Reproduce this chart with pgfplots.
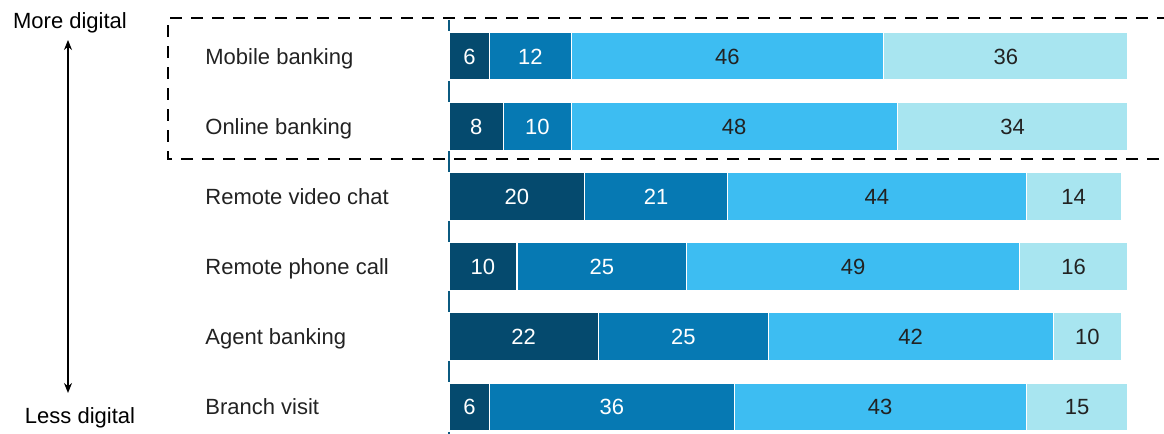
\documentclass[border=0pt]{standalone}
\usepackage{fontspec}
\setmainfont{Liberation Sans}
\usepackage{pgfplots}
\pgfplotsset{compat=1.18}
\usetikzlibrary{arrows.meta}
\definecolor{c1}{HTML}{054A6E}
\definecolor{c2}{HTML}{0679B3}
\definecolor{c3}{HTML}{3DBDF2}
\definecolor{c4}{HTML}{A8E5F0}
\definecolor{axc}{HTML}{0B5A80}
\definecolor{txt}{HTML}{222222}
\begin{document}
\begin{tikzpicture}[font=\fontsize{11}{13}\selectfont]
\path[use as bounding box] (0,0) rectangle (582pt,217pt);
\node[anchor=base,text=black] at (35pt,202.5pt) {More digital};
\node[anchor=base,text=black] at (40pt,5pt) {Less digital};
\draw[{Stealth[length=5pt,width=4pt]}-{Stealth[length=5pt,width=4pt]},line width=0.6pt] (34pt,197pt) -- (34pt,20.5pt);
\draw[line width=1.4pt,dash pattern=on 6pt off 4.5pt] (590pt,137.5pt) -- (84pt,137.5pt) -- (84pt,208pt) -- (590pt,208pt);
\begin{axis}[
  at={(224.5pt,0pt)}, anchor=south west,
  scale only axis, width=339.5pt, height=207pt,
  xbar stacked, bar width=24pt,
  xmin=0, xmax=100, ymin=-0.385, ymax=5.513,
  hide x axis,
  axis y line*=left,
  y axis line style={draw=none},
  ytick style={draw=none},
  ytick={0,1,2,3,4,5},
  yticklabels={Branch visit,Agent banking,Remote phone call,Remote video chat,Online banking,Mobile banking},
  yticklabel style={anchor=base west, xshift=-122pt, yshift=-4pt, inner sep=0pt, text=txt, font=\fontsize{11}{13}\selectfont},
  /pgf/number format/assume math mode=true,
  every axis plot/.append style={draw=white, line width=0.6pt},
  nodes near coords,
  every node near coord/.append style={anchor=base, yshift=-4pt, inner sep=0pt, font=\fontsize{11}{13}\selectfont},
  clip=false,
]
\addplot[fill=c1, nodes near coords style={text=white}] coordinates {(6,5) (8,4) (20,3) (10,2) (22,1) (6,0)};
\addplot[fill=c2, nodes near coords style={text=white}] coordinates {(12,5) (10,4) (21,3) (25,2) (25,1) (36,0)};
\addplot[fill=c3, nodes near coords style={text=txt}] coordinates {(46,5) (48,4) (44,3) (49,2) (42,1) (43,0)};
\addplot[fill=c4, nodes near coords style={text=txt}] coordinates {(36,5) (34,4) (14,3) (16,2) (10,1) (15,0)};
\draw[axc, line width=0.7pt] (axis cs:0,-0.385) -- (axis cs:0,5.513);
\end{axis}
\end{tikzpicture}
\end{document}
